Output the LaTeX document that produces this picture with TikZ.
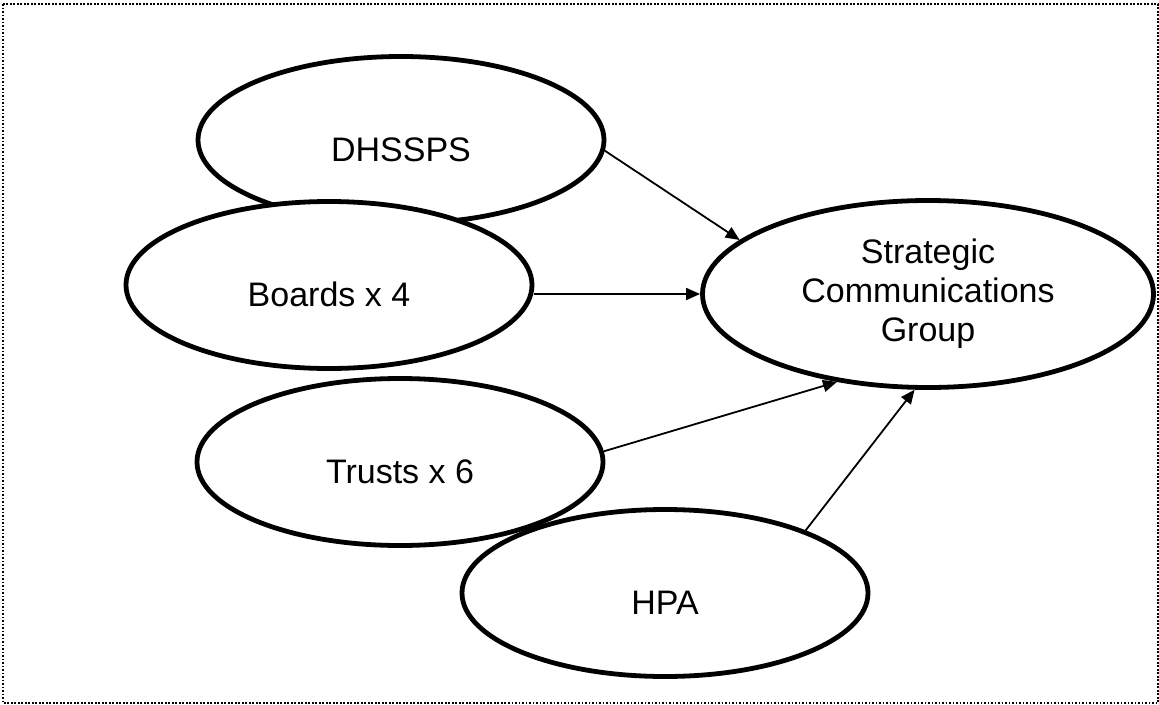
\documentclass[tikz,border=0pt]{standalone}
\usepackage{fontspec}
\setmainfont{Liberation Sans}
\usepackage{tikz}
\usetikzlibrary{shapes.geometric,arrows.meta}

\begin{document}
\begin{tikzpicture}[
    x=1pt, y=-1pt,
    oval/.style={ellipse, draw, line width=4.8pt, fill=white, inner sep=2pt, font=\fontsize{34pt}{39pt}\selectfont},
    member/.style={oval, minimum width=406pt, minimum height=167pt, text height=42pt, text depth=0pt},
    hub/.style={oval, minimum width=451pt, minimum height=187pt, align=center},
    arrow/.style={-{Triangle[length=14pt,width=12pt]}, line width=1.8pt},
    dotframe/.style={line width=1.6pt, dash pattern=on 1.6pt off 1.9pt}
]
\useasboundingbox (0,0) rectangle (1159,704);
\draw[dotframe] (3,4) rectangle (1158,703);

% Nodes
\node[member] (dhssps) at (401,140) {DHSSPS};
\node[member] (boards) at (329,285) {Boards x 4};
\node[member] (trusts) at (400,462) {Trusts x 6};
\node[member] (hpa) at (665,593) {HPA};
\node[hub] (scg) at (928,294) {Strategic\\Communications\\Group};

% Arrows
\draw[arrow] (dhssps.-3.4) -- (scg.164.5);
\draw[arrow] (boards.east |- scg.west) -- (scg.west);
\draw[arrow] (trusts.3.3) -- (scg.224.4);
\draw[arrow] (hpa.24.3) -- (scg.262.5);

\end{tikzpicture}
\end{document}
